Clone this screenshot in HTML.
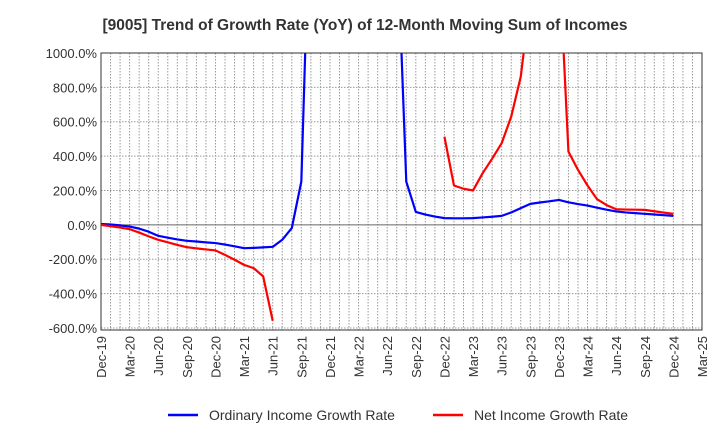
<!DOCTYPE html>
<html><head><meta charset="utf-8"><style>
body{margin:0;background:#fff;font-family:"Liberation Sans",Arial,sans-serif}
svg text{font-family:"Liberation Sans",Arial,sans-serif}
</style></head><body>
<svg id="c" width="720" height="440" xmlns="http://www.w3.org/2000/svg">
<text x="365" y="30" text-anchor="middle" font-size="15.5" font-weight="bold" fill="#333">[9005]  Trend of Growth Rate (YoY) of 12-Month Moving Sum of Incomes</text>
<g id="grid"></g>
<g id="axes"></g>
<clipPath id="clip"><rect x="101" y="53" width="601" height="277"/></clipPath>
<g id="series" clip-path="url(#clip)"></g>
<g>
<g><line x1="168" y1="415" x2="198" y2="415" stroke="#0000ff" stroke-width="2.5"/><text x="209" y="420" font-size="14" fill="#333">Ordinary Income Growth Rate</text></g>
<g><line x1="433" y1="415" x2="463" y2="415" stroke="#ff0000" stroke-width="2.5"/><text x="474" y="420" font-size="14" fill="#333">Net Income Growth Rate</text></g>
</g>
</svg>
<script>
const xTickLabels=["Dec-19","Mar-20","Jun-20","Sep-20","Dec-20","Mar-21","Jun-21","Sep-21","Dec-21","Mar-22","Jun-22","Sep-22","Dec-22","Mar-23","Jun-23","Sep-23","Dec-23","Mar-24","Jun-24","Sep-24","Dec-24","Mar-25"];
const yTicks=[1000,800,600,400,200,0,-200,-400,-600];
const ordinary=[5,2,-3,-10,-22,-40,-64,-75,-85,-93,-97,-102,-106,-115,-125,-136,-134,-131,-128,-87,-19,252,2100,3000,3000,3000,3000,3000,3000,3000,3000,1750,252,75,60,48,39,38,38,39,43,47,52,72,97,122,130,137,145,131,121,112,100,88,78,72,68,64,60,56,52];
const net=[0,-8,-16,-25,-45,-67,-87,-102,-117,-130,-137,-143,-149,-175,-203,-233,-252,-300,-558,null,null,null,null,null,null,null,null,null,null,null,null,null,null,null,null,null,513,229,210,200,300,385,475,630,862,1320,2000,2000,1575,426,320,229,149,115,91,89,88,87,79,71,64];
const L=101,R=702,T=53,B=330,months=63;
const yMin=-612,yMax=1000;
const X=m=>L+m*(R-L)/months;
const Y=v=>T+(yMax-v)*(B-T)/(yMax-yMin);
const NS="http://www.w3.org/2000/svg";
function mk(tag,attrs,parent){const e=document.createElementNS(NS,tag);for(const k in attrs)e.setAttribute(k,attrs[k]);parent.appendChild(e);return e;}
const grid=document.getElementById('grid'),axes=document.getElementById('axes'),series=document.getElementById('series');
for(let m=1;m<months;m++){const l=mk('line',{x1:X(m),x2:X(m),y1:T,y2:B,stroke:'#999','stroke-width':1,'stroke-dasharray':'1.5,1.5'},grid);

}
yTicks.forEach(v=>{const l=mk('line',{x1:L,x2:R,y1:Y(v),y2:Y(v),stroke:v===0?'#666':'#999','stroke-width':1,'stroke-dasharray':v===0?'':'1.5,1.5'},grid);


const t=mk('text',{x:L-4,y:Y(v)+5,'text-anchor':'end','font-size':13,fill:'#333'},axes);t.textContent=v.toFixed(1)+'%';

});
const fr=mk('rect',{x:L,y:T,width:R-L,height:B-T,fill:'none',stroke:'#333','stroke-width':1},axes);


xTickLabels.forEach((s,i)=>{const x=X(i*3);const t=mk('text',{x:0,y:0,transform:`translate(${x+5},${B+6}) rotate(-90)`,'text-anchor':'end','font-size':13,fill:'#333'},axes);t.textContent=s;

});
function draw(arr,color,name){let d='',pen=false;arr.forEach((v,i)=>{if(v===null){pen=false;return;}d+=(pen?'L':'M')+X(i).toFixed(2)+','+Y(v).toFixed(2);pen=true;});
const p=mk('path',{d:d,fill:'none',stroke:color,'stroke-width':2.2,'stroke-linejoin':'round'},series);

}
draw(ordinary,'#0000ff','ordinary-income-line');
draw(net,'#ff0000','net-income-line');
</script>
</body></html>
